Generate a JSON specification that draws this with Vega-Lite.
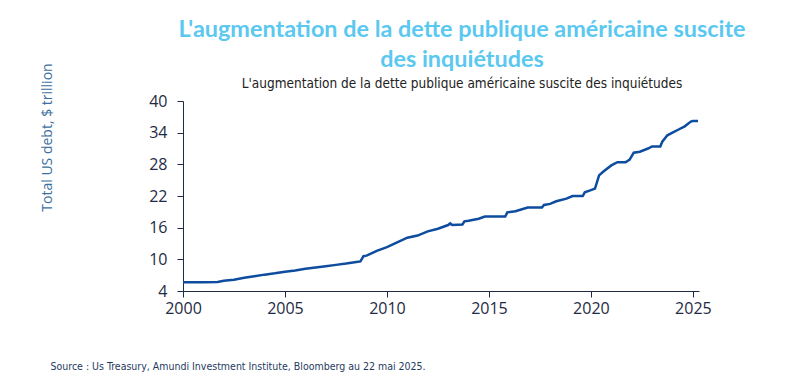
{
  "$schema": "https://vega.github.io/schema/vega-lite/v6.json",
  "autosize": {"type": "none"},
  "width": 516,
  "height": 190,
  "padding": {"left": 183, "top": 101, "right": 101, "bottom": 90},
  "background": "white",
  "title": {
    "text": ["L'augmentation de la dette publique américaine suscite", "des inquiétudes"],
    "subtitle": "L'augmentation  de la  dette publique  américaine suscite des inquiétudes",
    "anchor": "middle",
    "frame": "group",
    "dx": 21,
    "offset": -29,
    "font": "Lato",
    "fontSize": 23.4,
    "fontWeight": "bold",
    "lineHeight": 30,
    "color": "#5bc8f0",
    "subtitleFont": "DejaVu Sans Condensed, Liberation Sans",
    "subtitleFontSize": 13.5,
    "subtitleColor": "#222222",
    "subtitlePadding": 5
  },
  "data": {"values": [
    {"year": 2000.0, "debt": 5.65}, {"year": 2001.0, "debt": 5.65}, {"year": 2001.7, "debt": 5.7},
    {"year": 2002.0, "debt": 5.95}, {"year": 2002.5, "debt": 6.15}, {"year": 2003.0, "debt": 6.5},
    {"year": 2003.5, "debt": 6.8}, {"year": 2004.0, "debt": 7.1}, {"year": 2004.5, "debt": 7.35},
    {"year": 2005.0, "debt": 7.65}, {"year": 2005.5, "debt": 7.9}, {"year": 2006.0, "debt": 8.2},
    {"year": 2006.5, "debt": 8.45}, {"year": 2007.0, "debt": 8.7}, {"year": 2007.5, "debt": 8.95},
    {"year": 2008.0, "debt": 9.2}, {"year": 2008.5, "debt": 9.5}, {"year": 2008.7, "debt": 9.6},
    {"year": 2008.85, "debt": 10.6}, {"year": 2009.0, "debt": 10.7}, {"year": 2009.5, "debt": 11.6},
    {"year": 2010.0, "debt": 12.3}, {"year": 2010.5, "debt": 13.2}, {"year": 2011.0, "debt": 14.1},
    {"year": 2011.5, "debt": 14.5}, {"year": 2012.0, "debt": 15.3}, {"year": 2012.5, "debt": 15.8},
    {"year": 2013.0, "debt": 16.5}, {"year": 2013.1, "debt": 16.8}, {"year": 2013.2, "debt": 16.5},
    {"year": 2013.7, "debt": 16.6}, {"year": 2013.8, "debt": 17.2}, {"year": 2014.0, "debt": 17.3},
    {"year": 2014.5, "debt": 17.7}, {"year": 2014.8, "debt": 18.1}, {"year": 2015.8, "debt": 18.1},
    {"year": 2015.9, "debt": 18.9}, {"year": 2016.3, "debt": 19.1}, {"year": 2016.9, "debt": 19.8},
    {"year": 2017.6, "debt": 19.8}, {"year": 2017.7, "debt": 20.3}, {"year": 2018.0, "debt": 20.5},
    {"year": 2018.3, "debt": 21.0}, {"year": 2018.8, "debt": 21.5}, {"year": 2019.1, "debt": 22.0},
    {"year": 2019.6, "debt": 22.0}, {"year": 2019.7, "debt": 22.7}, {"year": 2020.0, "debt": 23.1},
    {"year": 2020.2, "debt": 23.4}, {"year": 2020.4, "debt": 25.9}, {"year": 2020.6, "debt": 26.6},
    {"year": 2021.0, "debt": 27.8}, {"year": 2021.3, "debt": 28.4}, {"year": 2021.7, "debt": 28.4},
    {"year": 2021.9, "debt": 28.9}, {"year": 2022.1, "debt": 30.2}, {"year": 2022.4, "debt": 30.4},
    {"year": 2022.8, "debt": 31.0}, {"year": 2023.0, "debt": 31.4}, {"year": 2023.4, "debt": 31.4},
    {"year": 2023.5, "debt": 32.3}, {"year": 2023.75, "debt": 33.5}, {"year": 2024.0, "debt": 34.0},
    {"year": 2024.3, "debt": 34.6}, {"year": 2024.6, "debt": 35.2}, {"year": 2024.9, "debt": 36.1},
    {"year": 2025.0, "debt": 36.2}, {"year": 2025.25, "debt": 36.2}
  ]},
  "mark": {"type": "line", "color": "#0d4c9e", "strokeWidth": 2.5},
  "encoding": {
    "x": {
      "field": "year", "type": "quantitative",
      "scale": {"domain": [2000, 2025.3], "nice": false, "zero": false},
      "axis": {
        "values": [2000, 2005, 2010, 2015, 2020, 2025],
        "format": "d",
        "grid": false,
        "domainColor": "#1f2a44", "tickColor": "#1f2a44", "tickSize": 6,
        "labelFont": "Open Sans", "labelFontSize": 16, "labelColor": "#1f2a44", "labelPadding": 3,
        "labelFlush": false,
        "title": "Source : Us Treasury, Amundi Investment Institute, Bloomberg au 22 mai 2025.",
        "titleFont": "DejaVu Sans Condensed, Liberation Sans", "titleFontSize": 10.5, "titleFontWeight": "normal",
        "titleColor": "#1f3a5f", "titleAnchor": "start", "titleAlign": "left",
        "titleX": -133, "titleY": 78, "titleBaseline": "alphabetic"
      }
    },
    "y": {
      "field": "debt", "type": "quantitative",
      "scale": {"domain": [4, 40], "nice": false, "zero": false},
      "axis": {
        "values": [4, 10, 16, 22, 28, 34, 40],
        "grid": false,
        "domainColor": "#1f2a44", "tickColor": "#1f2a44", "tickSize": 6,
        "labelFont": "Open Sans", "labelFontSize": 16, "labelColor": "#1f2a44", "labelPadding": 10,
        "labelFlush": false,
        "title": "Total US debt, $ trillion",
        "titleFont": "Open Sans", "titleFontSize": 14, "titleFontWeight": "normal",
        "titleColor": "#3d6fa0", "titleX": -136, "titleY": 36, "titleBaseline": "middle", "titleAlign": "center"
      }
    }
  },
  "config": {"view": {"stroke": null}}
}
